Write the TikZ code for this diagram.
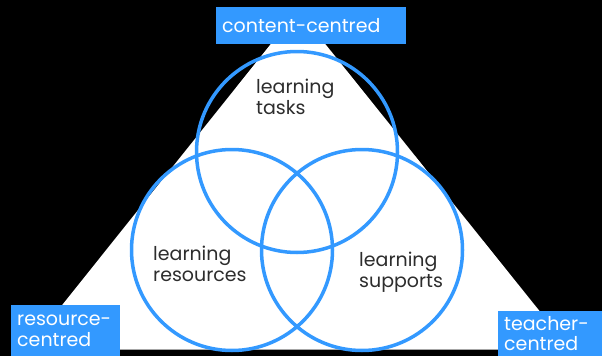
\documentclass[tikz,border=0pt]{standalone}
\usepackage{fontspec}
\setmainfont{Poppins}
\usetikzlibrary{positioning}
\definecolor{vennblue}{RGB}{51,153,255}
\definecolor{labelgray}{RGB}{45,45,45}
\tikzset{
  venn/.style={circle,draw=vennblue,line width=3.5pt,minimum size=201pt,
    inner sep=0pt},
  centrebox/.style={rectangle,fill=vennblue,text=white,align=left,
    font=\fontsize{19}{20.5}\selectfont,inner xsep=6pt,anchor=north west},
  vennlabel/.style={align=left,text=labelgray,
    font=\fontsize{19}{20.5}\selectfont,inner sep=0pt,anchor=north west},
}

\begin{document}
\begin{tikzpicture}[x=1pt,y=-1pt]
  % page and background
  \useasboundingbox (0,0) rectangle (602,356);
  \fill[black] (0,0) rectangle (602,356);
  % triangle
  \coordinate (apex)  at (298,10);
  \coordinate (right) at (570,349);
  \coordinate (left)  at (27,349);
  \fill[white] (apex) -- (right) -- (left) -- cycle;
  \draw[gray!70,line width=0.8pt] (left) -- (right);
  % the three circles
  \node[venn] (tasks)     at (297,152) {};
  \node[venn] (resources) at (232,250) {};
  \node[venn] (supports)  at (362,250) {};
  \node[vennlabel] (tasklbl) at (256,79)  {learning\\tasks};
  \node[vennlabel] (reslbl)  at (153,246) {learning\\resources};
  \node[vennlabel] (suplbl)  at (359,252) {learning\\supports};
  % corner tags
  \node[centrebox,text width=178pt,inner ysep=6pt,minimum height=37pt] (content)
    at (216,7) {content-centred};
  \node[centrebox,text width=97pt,inner ysep=5pt,minimum height=51pt] (resource)
    at (11,305) {resource-\\centred};
  \node[centrebox,text width=92pt,inner ysep=3pt,minimum height=45pt] (teacher)
    at (498,311) {teacher-\\centred};
\end{tikzpicture}
\end{document}
